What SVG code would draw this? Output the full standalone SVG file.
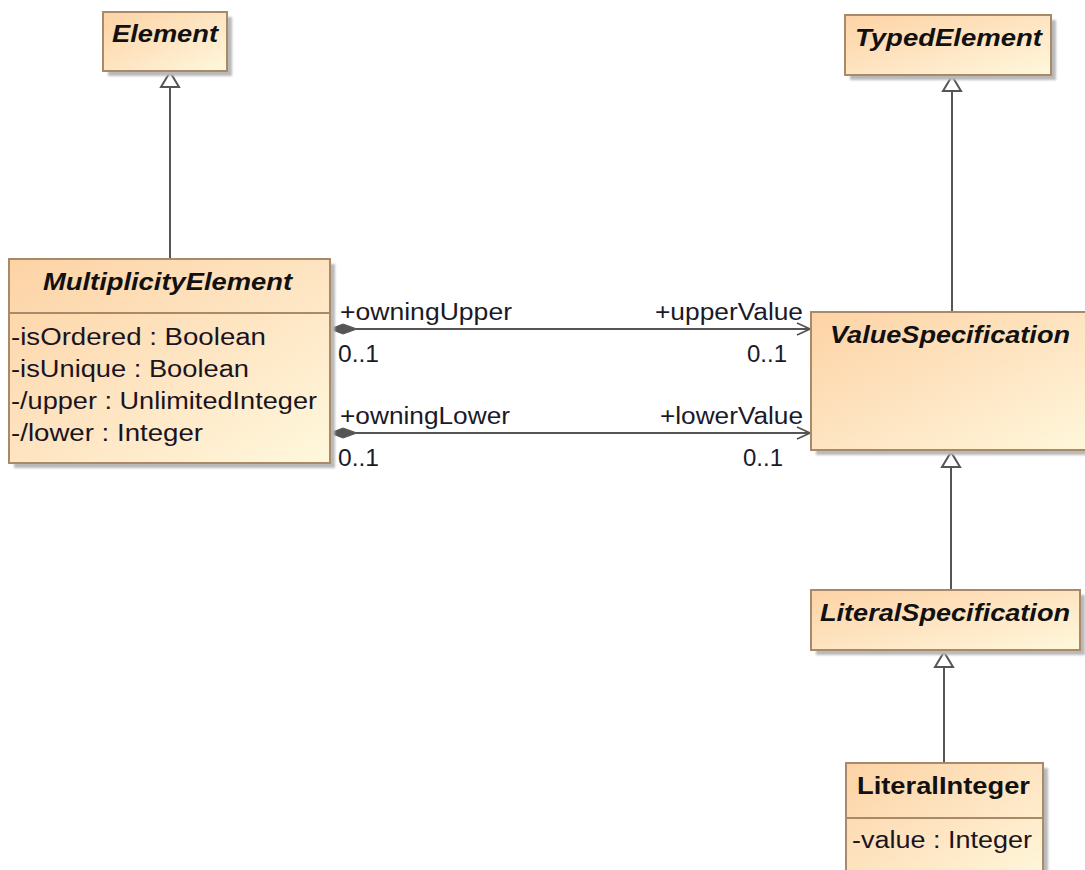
<svg xmlns="http://www.w3.org/2000/svg" width="1085" height="870" viewBox="0 0 1085 870">
  <style>
    .box { stroke: #a88a68; stroke-width: 2; fill: url(#classFill); }
    .shadow { fill: #b9b9b9; filter: url(#soft); }
    .sep { stroke: #a88a68; stroke-width: 2; }
    .title { font-family: "Liberation Sans", Arial, sans-serif; font-size: 23px; font-weight: bold; font-style: italic; fill: #111; }
    .title.concrete { font-style: normal; }
    .attr { font-family: "Liberation Sans", Arial, sans-serif; font-size: 23px; fill: #1a1420; }
    .label { font-family: "Liberation Sans", Arial, sans-serif; font-size: 23px; fill: #1a1a28; }
    .edge { stroke: #555; stroke-width: 2; fill: none; }
    .gen { fill: #fff; stroke: #555; stroke-width: 2; stroke-linejoin: miter; }
    .comp { fill: #555; stroke: #555; stroke-width: 1; }
    .open { fill: none; stroke: #555; stroke-width: 1.8; }
  </style>
  <defs>
    <linearGradient id="classFill" x1="0" y1="0" x2="1" y2="1">
      <stop offset="0" stop-color="#fdd3a5"/>
      <stop offset="0.55" stop-color="#fee6c4"/>
      <stop offset="1" stop-color="#fff8dc"/>
    </linearGradient>
    <filter id="soft" x="-5%" y="-5%" width="110%" height="110%">
      <feGaussianBlur stdDeviation="1.2"/>
    </filter>
  </defs>

  <rect width="1085" height="870" fill="#fff"/>

  <!-- connectors -->
  <g id="connectors">
    <!-- generalizations -->
    <line class="edge" x1="170" y1="259" x2="170" y2="87"/>
    <polygon class="gen" points="170,72 161,87 179,87"/>
    <line class="edge" x1="952" y1="312" x2="952" y2="91"/>
    <polygon class="gen" points="952,76 943,91 961,91"/>
    <line class="edge" x1="951" y1="590" x2="951" y2="467"/>
    <polygon class="gen" points="951,452 942,467 960,467"/>
    <line class="edge" x1="944" y1="763" x2="944" y2="667"/>
    <polygon class="gen" points="944,652 935,667 953,667"/>

    <!-- composite associations -->
    <line class="edge" x1="356" y1="329" x2="810" y2="329"/>
    <polygon class="comp" points="330,329 343,324 357,329 343,334"/>
    <polyline class="open" points="797,323 810,329 797,335"/>
    <line class="edge" x1="356" y1="433" x2="810" y2="433"/>
    <polygon class="comp" points="330,433 343,428 357,433 343,438"/>
    <polyline class="open" points="797,427 810,433 797,439"/>

    <text class="label" x="340" y="320" textLength="172" lengthAdjust="spacingAndGlyphs">+owningUpper</text>
    <text class="label" x="655" y="320" textLength="148" lengthAdjust="spacingAndGlyphs">+upperValue</text>
    <text class="label" x="338" y="362" textLength="41" lengthAdjust="spacingAndGlyphs">0..1</text>
    <text class="label" x="747" y="362" textLength="40" lengthAdjust="spacingAndGlyphs">0..1</text>
    <text class="label" x="340" y="424" textLength="170" lengthAdjust="spacingAndGlyphs">+owningLower</text>
    <text class="label" x="660" y="424" textLength="143" lengthAdjust="spacingAndGlyphs">+lowerValue</text>
    <text class="label" x="338" y="466" textLength="41" lengthAdjust="spacingAndGlyphs">0..1</text>
    <text class="label" x="743" y="466" textLength="40" lengthAdjust="spacingAndGlyphs">0..1</text>
  </g>

  <g id="Element">
    <rect class="shadow" x="108" y="17" width="124" height="59"/>
    <rect class="box" x="103" y="12" width="124" height="59"/>
    <text class="title" x="112" y="42" textLength="106" lengthAdjust="spacingAndGlyphs">Element</text>
  </g>

  <g id="TypedElement">
    <rect class="shadow" x="850" y="20" width="206" height="60"/>
    <rect class="box" x="845" y="15" width="206" height="60"/>
    <text class="title" x="855" y="46" textLength="187" lengthAdjust="spacingAndGlyphs">TypedElement</text>
  </g>

  <g id="MultiplicityElement">
    <rect class="shadow" x="14" y="264" width="321" height="204"/>
    <rect class="box" x="9" y="259" width="321" height="204"/>
    <line class="sep" x1="9" y1="313" x2="330" y2="313"/>
    <text class="title" x="43" y="290" textLength="249" lengthAdjust="spacingAndGlyphs">MultiplicityElement</text>
    <text class="attr" x="11" y="345" textLength="255" lengthAdjust="spacingAndGlyphs">-isOrdered : Boolean</text>
    <text class="attr" x="11" y="377" textLength="238" lengthAdjust="spacingAndGlyphs">-isUnique : Boolean</text>
    <text class="attr" x="11" y="409" textLength="306" lengthAdjust="spacingAndGlyphs">-/upper : UnlimitedInteger</text>
    <text class="attr" x="11" y="441" textLength="192" lengthAdjust="spacingAndGlyphs">-/lower : Integer</text>
  </g>

  <g id="ValueSpecification">
    <rect class="shadow" x="816" y="317" width="290" height="138"/>
    <rect class="box" x="811" y="312" width="290" height="138"/>
    <text class="title" x="830" y="343" textLength="240" lengthAdjust="spacingAndGlyphs">ValueSpecification</text>
  </g>

  <g id="LiteralSpecification">
    <rect class="shadow" x="816" y="595" width="269" height="60"/>
    <rect class="box" x="811" y="590" width="269" height="60"/>
    <text class="title" x="820" y="621" textLength="250" lengthAdjust="spacingAndGlyphs">LiteralSpecification</text>
  </g>

  <g id="LiteralInteger">
    <rect class="shadow" x="851" y="768" width="197" height="120"/>
    <rect class="box" x="846" y="763" width="197" height="120"/>
    <line class="sep" x1="846" y1="818" x2="1043" y2="818"/>
    <text class="title concrete" x="857" y="794" textLength="173" lengthAdjust="spacingAndGlyphs">LiteralInteger</text>
    <text class="attr" x="852" y="848" textLength="180" lengthAdjust="spacingAndGlyphs">-value : Integer</text>
  </g>
</svg>
